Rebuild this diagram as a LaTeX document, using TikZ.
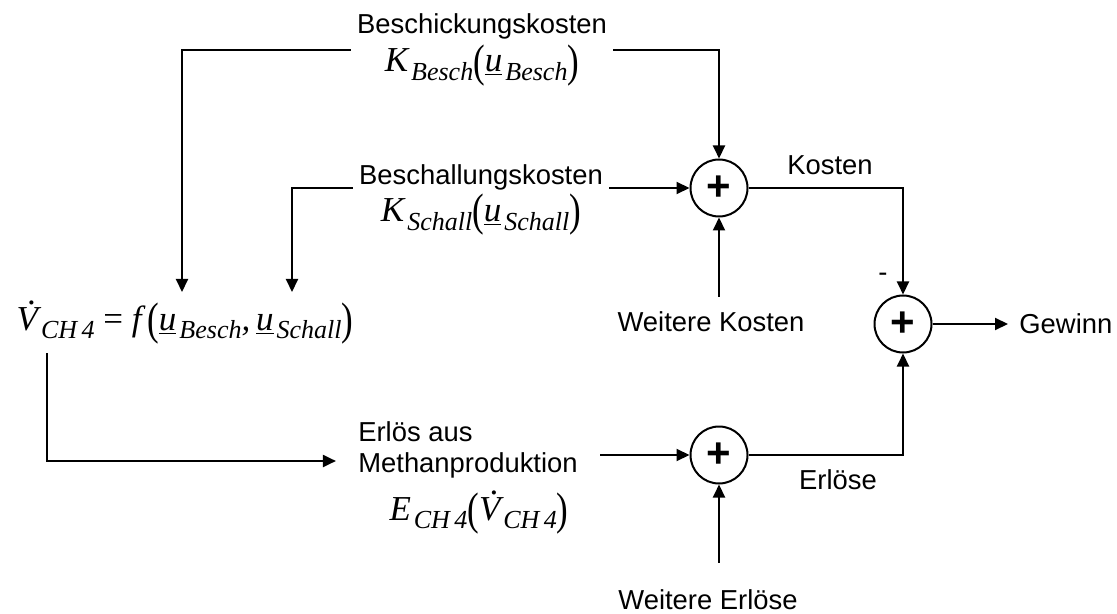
\documentclass[tikz,border=0pt]{standalone}
\usepackage[no-math]{fontspec}
\setmainfont{Liberation Sans}
\newfontfamily\tms{Liberation Serif}
\usepackage{graphicx}
\usetikzlibrary{arrows.meta, positioning, calc}

% formula helpers (Times italic, big subscripts)
\newcommand\fml{\tms\fontsize{17.5}{20}\selectfont\itshape}
\newcommand\sbs[1]{\hspace{1.5pt}\raisebox{-0.55ex}{\fontsize{13}{14}\selectfont #1}}
\newcommand\lpar{\raisebox{-0.3ex}{\scalebox{1}[1.3]{\upshape(}}}
\newcommand\rpar{\raisebox{-0.3ex}{\scalebox{1}[1.3]{\upshape)}}}
\newcommand\Vd{\rlap{\hspace{0.3em}\raisebox{0.72em}{\upshape .}}V}

\begin{document}
\begin{tikzpicture}[
  x=0.5pt, y=-0.5pt,
  lbl/.style={font=\fontsize{13.7}{16.5}\selectfont, inner sep=3pt},
  twoline/.style={lbl, align=center},
  formula/.style={inner sep=0pt, font=\fml},
  sum/.style={draw, circle, line width=1pt, minimum size=28.5pt, inner sep=0pt,
              font=\fontsize{21}{21}\selectfont\bfseries},
  arr/.style={-{Triangle[length=6.5pt, width=6pt]}, line width=1pt},
]
\useasboundingbox (0,0) rectangle (1117,614);

% --- cost inputs ---
\node[twoline, font=\fontsize{13.7}{20}\selectfont] (besch) at (482,50)
  {Beschickungskosten\\[-1pt]
   {\fml K\sbs{Besch}\lpar\underline{u}\sbs{Besch}\rpar}};
\node[twoline, font=\fontsize{13.7}{18.5}\selectfont] (schall) at (481,200)
  {Beschallungskosten\\[0pt]
   {\fml K\sbs{Schall}\lpar\underline{u}\sbs{Schall}\rpar}};

% --- methane volume ---
\node[formula, anchor=base] (vol) at (185,330)
  {\Vd\sbs{CH\,4}\ {\upshape =}\ f\,\lpar\underline{u}\sbs{Besch},\,\underline{u}\sbs{Schall}\rpar};
\coordinate (vB) at (182,292);
\coordinate (vS) at (292,292);
\coordinate (vOut) at (47,353);

% --- revenue ---
\node[lbl, align=left, font=\fontsize{13.7}{15.5}\selectfont, inner xsep=11pt, inner ysep=0pt] (erl) at (468,450)
  {Erlös aus\\Methanproduktion};
\node[formula, anchor=base] (ech4) at (479,520)
  {E\sbs{CH\,4}\lpar\Vd\sbs{CH\,4}\rpar};

% --- summing points ---
\node[sum] (sumK) at (719,188) {+};
\node[sum] (sumE) at (719,455) {+};
\node[sum] (sumG) at (903,324) {+};

\node[lbl, inner sep=7.5pt] (wk) at (711,322) {Weitere Kosten};
\node[lbl, inner sep=13.5pt] (we) at (708,600) {Weitere Erlöse};
\node[lbl] (kosten) at (830,165) {Kosten};
\node[lbl] (erloese) at (838,480) {Erlöse};
\node[lbl] (minus) at (883,277) {-};
\node[lbl, anchor=west, inner sep=5.5pt] (gewinn) at (1008,324) {Gewinn};

% --- wiring ---
\draw[arr] (besch.west) -| (vB);
\draw[arr] (schall.west |- sumK) -| (vS);
\draw[arr] (besch.east) -| (sumK.north);
\draw[arr] (schall.east |- sumK) -- (sumK.west);
\draw[arr] (sumK |- wk.north) -- (sumK.south);

\draw[arr] (vOut) |- ([yshift=-5.5pt]erl.west);
\draw[arr] (erl.east |- sumE) -- (sumE.west);
\draw[arr] (sumE |- we.north) -- (sumE.south);

\draw[arr] (sumK.east) -| (sumG.north);
\draw[arr] (sumE.east) -| (sumG.south);
\draw[arr] (sumG.east) -- (gewinn.west);

\end{tikzpicture}
\end{document}
